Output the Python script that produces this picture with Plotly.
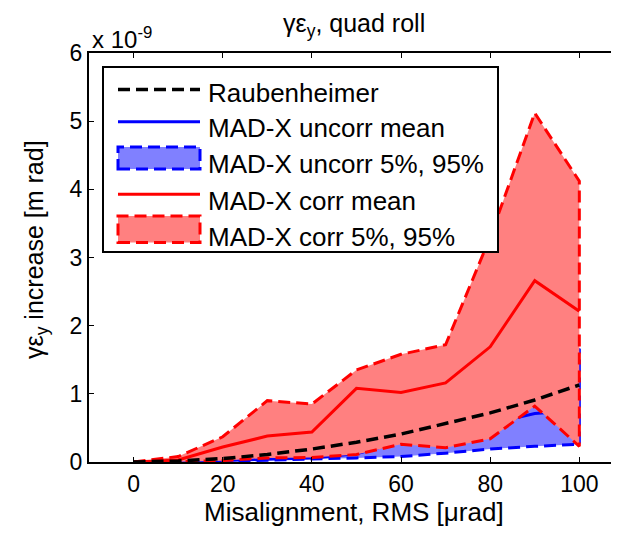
import plotly.graph_objects as go

# ---- data (emittance increase in units of 1e-9 m rad) ----
misalign = [0, 10, 20, 30, 40, 50, 60, 70, 80, 90, 100]
raubenheimer = [0, 0.015, 0.05, 0.11, 0.19, 0.29, 0.41, 0.56, 0.72, 0.91, 1.13]
uncorr_mean = [0, 0.005, 0.02, 0.04, 0.06, 0.12, 0.30, 0.35, 0.56, 0.71, 0.76]
uncorr_p5 = [0, 0.0, 0.01, 0.02, 0.04, 0.06, 0.08, 0.13, 0.19, 0.23, 0.26]
uncorr_p95 = [0, 0.01, 0.04, 0.09, 0.11, 0.18, 0.32, 0.40, 0.70, 1.00, 1.66]
corr_mean = [0, 0.03, 0.22, 0.38, 0.44, 1.08, 1.02, 1.16, 1.69, 2.66, 2.21]
corr_p5 = [0, 0.005, 0.02, 0.06, 0.065, 0.11, 0.26, 0.21, 0.34, 0.82, 0.23]
corr_p95 = [0, 0.08, 0.37, 0.90, 0.85, 1.35, 1.58, 1.72, 3.30, 5.12, 4.12]

x_ticks = [0, 20, 40, 60, 80, 100]
y_ticks = [0, 1, 2, 3, 4, 5, 6]

legend_labels = ["Raubenheimer", "MAD-X uncorr mean", "MAD-X uncorr 5%, 95%",
                 "MAD-X corr mean", "MAD-X corr 5%, 95%"]

FONT = "Liberation Sans, Arial, sans-serif"
DASH = "12px,6px"
OFF = 8                      # page body margin in the browser window
W, H = 619 - OFF, 538 - OFF
# plot area in window pixels
L, T, R, B = 89, 53, 619, 462


def px(X):
    return (X - L) / (R - L)


def py(Y):
    return (B - Y) / (B - T)


fig = go.Figure()

# uncorrected band
fig.add_trace(go.Scatter(
    x=misalign + misalign[::-1], y=uncorr_p95 + uncorr_p5[::-1],
    fill="toself", fillcolor="#8080FF", mode="lines",
    line=dict(color="#0000FF", width=3, dash=DASH), hoverinfo="skip"))
fig.add_trace(go.Scatter(x=misalign, y=uncorr_mean, mode="lines",
                         line=dict(color="#0000FF", width=3)))
# corrected band
fig.add_trace(go.Scatter(
    x=misalign + misalign[::-1], y=corr_p95 + corr_p5[::-1],
    fill="toself", fillcolor="#FF8080", mode="lines",
    line=dict(color="#FF0000", width=3, dash=DASH), hoverinfo="skip"))
fig.add_trace(go.Scatter(x=misalign, y=corr_mean, mode="lines",
                         line=dict(color="#FF0000", width=3)))
fig.add_trace(go.Scatter(x=misalign, y=raubenheimer, mode="lines",
                         line=dict(color="#000000", width=3.5, dash=DASH)))

shapes = []
annotations = []

# legend box
shapes.append(dict(type="rect", xref="paper", yref="paper",
                   x0=px(103), x1=px(498), y0=py(252), y1=py(67),
                   line=dict(color="black", width=2), fillcolor="white"))
sx0, sx1 = px(118), px(200)
shapes.append(dict(type="line", xref="paper", yref="paper", x0=sx0, x1=sx1,
                   y0=py(89.5), y1=py(89.5), line=dict(color="black", width=3.5, dash=DASH)))
shapes.append(dict(type="line", xref="paper", yref="paper", x0=sx0, x1=sx1,
                   y0=py(121.7), y1=py(121.7), line=dict(color="#0000FF", width=3)))
shapes.append(dict(type="rect", xref="paper", yref="paper", x0=sx0, x1=sx1,
                   y0=py(169), y1=py(147), fillcolor="#8080FF",
                   line=dict(color="#0000FF", width=3, dash=DASH)))
shapes.append(dict(type="line", xref="paper", yref="paper", x0=sx0, x1=sx1,
                   y0=py(194.3), y1=py(194.3), line=dict(color="#FF0000", width=3)))
shapes.append(dict(type="rect", xref="paper", yref="paper", x0=sx0, x1=sx1,
                   y0=py(242.5), y1=py(216), fillcolor="#FF8080",
                   line=dict(color="#FF0000", width=3, dash=DASH)))

for lab, yc in zip(legend_labels, [93, 128, 164, 200.5, 236.5]):
    annotations.append(dict(text=lab, xref="paper", yref="paper", x=px(206), y=py(yc),
                            xanchor="left", yanchor="middle", showarrow=False,
                            font=dict(family=FONT, size=26, color="black")))

# title and axis labels
annotations.append(dict(text="γε<sub>y</sub>, quad roll", xref="paper", yref="paper",
                        x=0.5, y=py(25), xanchor="center", yanchor="middle",
                        showarrow=False, font=dict(family=FONT, size=25, color="black")))
annotations.append(dict(text="x 10<sup>-9</sup>", xref="paper", yref="paper",
                        x=px(90), y=py(38), xanchor="left", yanchor="middle",
                        showarrow=False, font=dict(family=FONT, size=24, color="black")))
annotations.append(dict(text="Misalignment, RMS [μrad]", xref="paper", yref="paper",
                        x=0.5, y=py(512), xanchor="center", yanchor="middle",
                        showarrow=False, font=dict(family=FONT, size=26, color="black")))
annotations.append(dict(text="γε<sub>y</sub> increase [m rad]", xref="paper", yref="paper",
                        x=px(36), y=py(250), xanchor="center", yanchor="middle",
                        textangle=-90, showarrow=False,
                        font=dict(family=FONT, size=25, color="black")))

fig.update_layout(
    width=W, height=H,
    margin=dict(l=L - OFF, r=W - (R - OFF), t=T - OFF, b=H - (B - OFF), pad=0),
    plot_bgcolor="white", paper_bgcolor="white",
    showlegend=False,
    font=dict(family=FONT, size=23, color="black"),
    shapes=shapes, annotations=annotations,
    xaxis=dict(range=[-10, 108.9], tickvals=x_ticks, ticktext=[str(v) for v in x_ticks],
               ticks="inside", ticklen=5, tickwidth=1, tickcolor="black",
               showline=True, linecolor="black", linewidth=2, mirror="ticks",
               showgrid=False, zeroline=False,
               tickfont=dict(family=FONT, size=23, color="black")),
    yaxis=dict(range=[0, 6], tickvals=y_ticks, ticktext=[str(v) for v in y_ticks],
               ticks="inside", ticklen=5, tickwidth=1, tickcolor="black",
               showline=True, linecolor="black", linewidth=2,
               showgrid=False, zeroline=False,
               tickfont=dict(family=FONT, size=23, color="black")),
)

fig.write_html("out.html")
